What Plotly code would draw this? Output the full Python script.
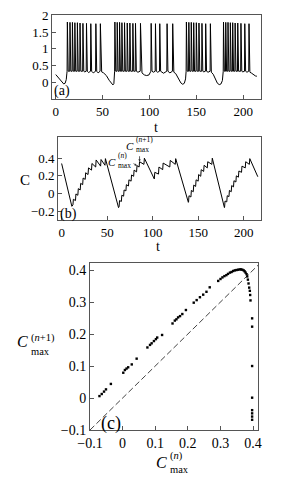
import plotly.graph_objects as go

# ---------------- data: panel (a) membrane potential ----------------
SPIKE_T = [12.4, 15.2, 17.8, 20.4, 23.1, 25.9, 29.0, 32.8, 37.4, 42.8, 47.6,
           63.1, 65.6, 68.1, 70.6, 73.4, 76.3, 79.1, 82.3, 85.1, 90.4, 101.8, 106.4, 111.0, 118.8, 124.8,
           139.4, 142.0, 144.6, 147.2, 150.0, 152.8, 156.0, 160.0, 165.0,
           179.0, 181.4, 183.8, 186.3, 188.8, 191.4, 194.2, 197.6, 201.7, 206.2]
SPIKE_V = [1.80, 1.79, 1.79, 1.78, 1.78, 1.77, 1.76, 1.76, 1.75, 1.75, 1.75,
           1.80, 1.79, 1.79, 1.78, 1.78, 1.77, 1.77, 1.76, 1.76, 1.76, 1.76, 1.75, 1.75, 1.75, 1.75,
           1.80, 1.79, 1.79, 1.78, 1.78, 1.77, 1.76, 1.75, 1.75,
           1.80, 1.79, 1.79, 1.78, 1.78, 1.77, 1.77, 1.76, 1.75, 1.75]
SPIKE_BASE = 0.33
QUIET_T = [0, 3, 6, 8.5, 10, 11.2, 11.8,
           31, 35, 40, 45.2,
           49, 51, 54, 57, 59.5, 61, 62, 62.6,
           87.7, 92, 94.5, 97, 99.5, 101, 104.1, 108.7, 115, 121.8,
           126, 128, 131, 133.5, 135.5, 137.2, 138.5, 139,
           158, 162.5,
           166, 168, 170.5, 172.5, 174.5, 176.3, 177.8, 178.5,
           199.6, 204,
           207.2, 209, 211, 213, 214.6]
QUIET_V = [0.23, 0.12, 0.01, -0.05, -0.03, 0.08, 0.25,
           0.31, 0.29, 0.28, 0.28,
           0.31, 0.28, 0.20, 0.06, -0.05, -0.08, -0.04, 0.15,
           0.30, 0.28, 0.22, 0.20, 0.22, 0.28, 0.30, 0.30, 0.27, 0.28,
           0.30, 0.26, 0.12, -0.02, -0.06, -0.03, 0.10, 0.25,
           0.31, 0.30,
           0.30, 0.24, 0.10, -0.03, -0.07, -0.05, 0.05, 0.25,
           0.31, 0.30,
           0.30, 0.27, 0.22, 0.19, 0.18]

# ---------------- data: panel (b) variable C ----------------
C_T = [0, 11.2,
       12.4, 12.9, 15.2, 15.7, 17.8, 18.3, 20.4, 20.9, 23.1, 23.6, 25.9, 26.4, 29.0, 29.5,
       32.8, 33.3, 37.4, 37.9, 42.8, 43.3, 47.6, 48.1,
       62.5,
       63.1, 63.6, 65.6, 66.1, 68.1, 68.6, 70.6, 71.1, 73.4, 73.9, 76.3, 76.8, 79.1, 79.6,
       82.3, 82.8, 85.1, 85.6, 90.4, 90.9, 101.8, 102.3, 106.4, 106.9, 111.0, 111.5,
       118.8, 119.3, 124.8, 125.3,
       139.2,
       139.4, 139.9, 142.0, 142.5, 144.6, 145.1, 147.2, 147.7, 150.0, 150.5, 152.8, 153.3,
       156.0, 156.5, 160.0, 160.5, 165.0, 165.5,
       178.8,
       179.0, 179.5, 181.4, 181.9, 183.8, 184.3, 186.3, 186.8, 188.8, 189.3, 191.4, 191.9,
       194.2, 194.7, 197.6, 198.1, 201.7, 202.2, 206.2, 206.7,
       215.5]
C_V = [0.34, -0.145,
       -0.13, -0.065, -0.08, -0.005, -0.02, 0.055, 0.04, 0.115, 0.10, 0.175, 0.16, 0.235, 0.215, 0.29,
       0.265, 0.34, 0.30, 0.38, 0.31, 0.385, 0.32, 0.395,
       -0.16,
       -0.15, -0.08, -0.09, -0.02, -0.03, 0.04, 0.03, 0.10, 0.085, 0.155, 0.14, 0.21, 0.195, 0.265,
       0.245, 0.315, 0.30, 0.36, 0.33, 0.40, 0.165, 0.24, 0.22, 0.30, 0.27, 0.345,
       0.30, 0.375, 0.33, 0.395,
       -0.10,
       -0.095, -0.025, -0.04, 0.035, 0.02, 0.095, 0.08, 0.155, 0.14, 0.215, 0.195, 0.27,
       0.25, 0.32, 0.29, 0.36, 0.33, 0.40,
       -0.16,
       -0.155, -0.085, -0.095, -0.025, -0.035, 0.035, 0.02, 0.09, 0.075, 0.145, 0.13, 0.20,
       0.185, 0.255, 0.24, 0.31, 0.29, 0.36, 0.33, 0.395,
       0.19]
CMAX_N = (82.8, 0.315)
CMAX_N1 = (85.6, 0.36)

# ---------------- data: panel (c) return map ----------------
MAP_X = [-0.071, -0.064, -0.057, -0.051, -0.036,
         0.002, 0.007, 0.012, 0.017, 0.028, 0.043,
         0.076, 0.084, 0.089, 0.096, 0.102, 0.106, 0.121,
         0.153, 0.160, 0.165, 0.170, 0.176, 0.183, 0.194,
         0.218, 0.227, 0.237, 0.247, 0.257, 0.267,
         0.293, 0.300, 0.306, 0.312, 0.318, 0.323, 0.329, 0.334, 0.339, 0.344, 0.349,
         0.354, 0.359, 0.363, 0.367, 0.371, 0.374, 0.377, 0.380, 0.382, 0.384, 0.386,
         0.388, 0.390, 0.391, 0.392,
         0.397, 0.397, 0.397, 0.397, 0.397, 0.397, 0.397, 0.397]
MAP_Y = [0.006, 0.0125, 0.020, 0.027, 0.044,
         0.079, 0.0875, 0.092, 0.096, 0.105, 0.123,
         0.158, 0.166, 0.171, 0.178, 0.184, 0.189, 0.197,
         0.233, 0.242, 0.246, 0.252, 0.256, 0.2625, 0.275,
         0.298, 0.306, 0.315, 0.323, 0.332, 0.346,
         0.366, 0.372, 0.377, 0.381, 0.384, 0.388, 0.392, 0.394, 0.397, 0.399, 0.400,
         0.401, 0.402, 0.402, 0.401, 0.399, 0.396, 0.392, 0.387, 0.380, 0.370, 0.358,
         0.345, 0.335, 0.322, 0.305,
         0.249, 0.223, 0.100, 0.001, -0.038, -0.048, -0.058, -0.068]
DIAG = [-0.1, 0.42]

# ---------------- build V polyline from read vertices ----------------
pts = list(zip(QUIET_T, QUIET_V))
for ts, pv in zip(SPIKE_T, SPIKE_V):
    pts += [(ts - 0.3, SPIKE_BASE), (ts, pv), (ts + 0.9, SPIKE_BASE)]
pts.sort()
V_T = [p[0] for p in pts]
V_V = [p[1] for p in pts]

# the page body has an 8px default margin: size the figure so the page matches 293x477
PAGE_W, PAGE_H, OFF = 293, 477, 8
W, H = PAGE_W - OFF, PAGE_H - OFF
FONT = "Liberation Serif"
FRAME = "#555555"

def px(x):
    return (x - OFF) / W

def py(y):
    return 1 - (y - OFF) / H

fig = go.Figure()
fig.add_trace(go.Scatter(x=V_T, y=V_V, mode="lines", line=dict(color="black", width=1),
                         xaxis="x", yaxis="y", hoverinfo="skip"))
fig.add_trace(go.Scatter(x=C_T, y=C_V, mode="lines", line=dict(color="black", width=1),
                         xaxis="x2", yaxis="y2", hoverinfo="skip"))
fig.add_trace(go.Scatter(x=DIAG, y=DIAG, mode="lines",
                         line=dict(color="#444444", width=1, dash="6px,3px"),
                         xaxis="x3", yaxis="y3", hoverinfo="skip"))
fig.add_trace(go.Scatter(x=MAP_X, y=MAP_Y, mode="markers",
                         marker=dict(color="black", size=2.4, symbol="square", line=dict(width=0)),
                         xaxis="x3", yaxis="y3", hoverinfo="skip"))

def ax_common(fs):
    return dict(showline=True, mirror=True, linecolor=FRAME, linewidth=1, showgrid=False,
                zeroline=False, ticks="inside", ticklen=4, tickcolor=FRAME, tickwidth=1,
                ticklabeloverflow="allow",
                tickfont=dict(family=FONT, size=fs, color="black"), automargin=False)

lay = dict(
    width=W, height=H, margin=dict(l=0, r=0, t=0, b=0),
    paper_bgcolor="white", plot_bgcolor="white", showlegend=False,
    xaxis=dict(domain=[px(52), px(261)], range=[-4, 219], anchor="y",
               tickvals=[0, 50, 100, 150, 200], **ax_common(13)),
    yaxis=dict(domain=[py(99), py(15)], range=[-0.5, 2.01], anchor="x",
               tickvals=[0, 0.5, 1, 1.5, 2], ticktext=["0", "0.5", "1", "1.5", "2"], **ax_common(13)),
    xaxis2=dict(domain=[px(58), px(261)], range=[-4, 219], anchor="y2",
                tickvals=[0, 50, 100, 150, 200], **ax_common(13)),
    yaxis2=dict(domain=[py(220), py(137)], range=[-0.3, 0.64], anchor="x2",
                tickvals=[-0.2, 0, 0.2, 0.4], ticktext=["\u22120.2", "0", "0.2", "0.4"], **ax_common(13)),
    xaxis3=dict(domain=[px(90), px(258)], range=[-0.1, 0.415], anchor="y3",
                tickvals=[-0.1, 0, 0.1, 0.2, 0.3, 0.4],
                ticktext=["\u22120.1", "0", "0.1", "0.2", "0.3", "0.4"], **ax_common(14)),
    yaxis3=dict(domain=[py(430), py(263)], range=[-0.1, 0.422], anchor="x3",
                tickvals=[-0.1, 0, 0.1, 0.2, 0.3, 0.4],
                ticktext=["\u22120.1", "0", "0.1", "0.2", "0.3", "0.4"], **ax_common(14)),
)
fig.update_layout(**lay)

def txt(x, y, s, size, xa="center", ya="middle", align="center"):
    fig.add_annotation(x=px(x), y=py(y), xref="paper", yref="paper", text=s, showarrow=False,
                       xanchor=xa, yanchor=ya, borderpad=0, align=align,
                       font=dict(family=FONT, size=size, color="black"))

# axis labels
txt(156, 127, "t", 14)
txt(158, 247, "t", 14)
txt(25, 180, "C", 15)
# panel labels
txt(53, 91, "(a)", 14, xa="left")
txt(59, 214, "(b)", 14, xa="left")
txt(100, 423, "(c)", 18, xa="left")

def cmax(xc, yc_c, yc_s, sup, size_c, size_s):
    # italic C followed by a stacked superscript / "max" subscript block
    txt(xc, yc_c, "<i>C</i>", size_c, xa="right")
    txt(xc + 0.5, yc_s, sup + "<br>max", size_s, xa="left", align="left")

# panel (c) axis titles
cmax(29, 341.5, 344, "(<i>n</i>+1)", 16, 10.5)
cmax(168, 462.5, 462, "(<i>n</i>)", 16, 10.5)
# panel (b) annotations
cmax(117, 162, 160.5, "(<i>n</i>)", 11, 7.5)
cmax(134.5, 145.5, 144, "(<i>n</i>+1)", 11, 7.5)

fig.add_annotation(x=CMAX_N[0], y=CMAX_N[1], xref="x2", yref="y2", ax=-5, ay=-3,
                   showarrow=True, arrowhead=2, arrowsize=0.6, arrowwidth=0.8, arrowcolor="#333333", text="")
fig.add_annotation(x=CMAX_N1[0], y=CMAX_N1[1], xref="x2", yref="y2", ax=0, ay=-7,
                   showarrow=True, arrowhead=2, arrowsize=0.6, arrowwidth=0.8, arrowcolor="#333333", text="")

fig.write_html("out.html")
